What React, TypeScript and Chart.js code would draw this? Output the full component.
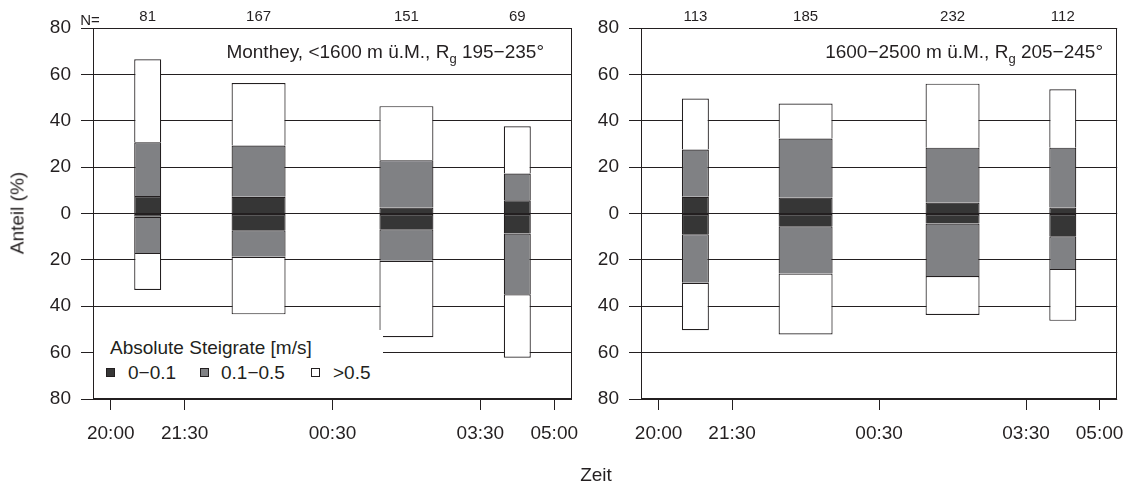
import React, { useEffect, useRef } from "react";
import { Chart, registerables } from "chart.js";

Chart.register(...registerables);

// ---------- data ----------
// x positions in hours after 20:00
const timeTicks = [0, 1.5, 4.5, 7.5, 9];
const timeLabels = ["20:00", "21:30", "00:30", "03:30", "05:00"];
const barCenters = [0.75, 3, 6, 8.25];
const barIsWide = [false, true, true, false];

const classLabels = ["0\u22120.1", "0.1\u22120.5", ">0.5"];

// Panel A: Monthey, <1600 m ü.M.
const nA = [81, 167, 151, 69];
const upSlowA = [7.5, 7.2, 2.6, 5.7];
const upMidA = [23.2, 22.1, 20.4, 11.5];
const upFastA = [35.8, 27.0, 23.3, 20.4];
const downSlowA = [1.4, 7.2, 6.8, 8.6];
const downMidA = [15.6, 11.5, 13.6, 26.2];
const downFastA = [16.0, 24.8, 33.0, 27.4];

// Panel B: 1600-2500 m ü.M.
const nB = [113, 185, 232, 112];
const upSlowB = [7.2, 6.9, 4.7, 2.6];
const upMidB = [20.4, 25.4, 23.7, 25.8];
const upFastB = [22.0, 15.1, 27.6, 25.2];
const downSlowB = [8.9, 5.5, 4.3, 9.8];
const downMidB = [21.0, 20.4, 22.7, 14.1];
const downFastB = [20.4, 26.3, 16.8, 22.4];

// ---------- styles ----------
const INK = "#231f20";
const classColors = ["#363636", "#808184", "#ffffff"];
const FONT = "'Liberation Sans', Arial, Helvetica, sans-serif";

const framePlugin = {
  id: "frame",
  afterDatasetsDraw(chart: any) {
    const { ctx, chartArea: a } = chart;
    ctx.save();
    ctx.strokeStyle = INK;
    ctx.lineWidth = 1;
    const l = Math.round(a.left) + 0.5;
    const t = Math.round(a.top) + 0.5;
    const r = Math.round(a.right) - 0.5;
    const b = Math.round(a.bottom) - 0.5;
    ctx.strokeRect(l, t, r - l, b - t);
    ctx.restore();
  },
};

function buildDatasets(up: number[][], down: number[][]) {
  const ds: any[] = [];
  [false, true].forEach((wide) => {
    const idx = barCenters.map((_, i) => i).filter((i) => barIsWide[i] === wide);
    const common = {
      borderColor: INK,
      borderSkipped: false,
      barThickness: wide ? 54 : 27,
      stack: "s",
      inflateAmount: 0,
    };
    for (let c = 0; c < 3; c++) {
      ds.push({
        ...common,
        label: classLabels[c],
        data: idx.map((i) => ({ x: barCenters[i], y: up[c][i] })),
        backgroundColor: classColors[c],
        borderWidth: { top: 1.2, left: 1.2, right: 1.2, bottom: 0 },
      });
    }
    for (let c = 0; c < 3; c++) {
      ds.push({
        ...common,
        label: classLabels[c],
        data: idx.map((i) => ({ x: barCenters[i], y: -down[c][i] })),
        backgroundColor: classColors[c],
        borderWidth: { top: 1.2, left: 1.2, right: 1.2, bottom: c === 2 ? 1.2 : 0 },
      });
    }
  });
  return ds;
}

function makeChart(
  canvas: HTMLCanvasElement,
  up: number[][],
  down: number[][],
  counts: number[],
  yAxisWidth: number,
  padRight: number
) {
  const xmin = -0.36;
  const xmax = 9.36;
  return new Chart(canvas, {
    type: "bar",
    data: { datasets: buildDatasets(up, down) },
    plugins: [framePlugin],
    options: {
      responsive: false,
      animation: false,
      devicePixelRatio: 1,
      layout: { padding: { left: 0, right: padRight, top: 0, bottom: 0 } },
      plugins: { legend: { display: false }, tooltip: { enabled: false } },
      scales: {
        x: {
          type: "linear",
          position: "bottom",
          min: xmin,
          max: xmax,
          offset: false,
          afterFit: (s: any) => {
            s.height = 85;
          },
          afterBuildTicks: (s: any) => {
            s.ticks = timeTicks.map((v) => ({ value: v }));
          },
          grid: {
            offset: false,
            drawOnChartArea: false,
            drawTicks: true,
            tickLength: 11,
            color: INK,
          },
          border: { display: false },
          ticks: {
            autoSkip: false,
            maxRotation: 0,
            padding: 12,
            color: INK,
            font: { family: FONT, size: 19 },
            callback: (_v: any, i: number) => timeLabels[i],
          },
        },
        x2: {
          type: "linear",
          position: "top",
          min: xmin,
          max: xmax,
          offset: false,
          afterFit: (s: any) => {
            s.height = 28;
          },
          afterBuildTicks: (s: any) => {
            s.ticks = barCenters.map((v) => ({ value: v }));
          },
          grid: { display: false, drawTicks: false },
          border: { display: false },
          ticks: {
            autoSkip: false,
            maxRotation: 0,
            padding: 2,
            color: INK,
            font: { family: FONT, size: 15 },
            callback: (_v: any, i: number) => String(counts[i]),
          },
        },
        y: {
          type: "linear",
          stacked: true,
          min: -80,
          max: 80,
          afterFit: (s: any) => {
            s.width = yAxisWidth;
          },
          grid: {
            color: INK,
            lineWidth: 1,
            drawTicks: true,
            tickLength: 12,
          },
          border: { display: false },
          ticks: {
            stepSize: 20,
            padding: 10,
            color: INK,
            font: { family: FONT, size: 19 },
            callback: (v: any) => String(Math.abs(Number(v))),
          },
        },
      },
    } as any,
  });
}

const textBase: React.CSSProperties = {
  position: "absolute",
  fontFamily: FONT,
  color: INK,
  whiteSpace: "nowrap",
  lineHeight: 1,
};

function Marker({ color }: { color: string }) {
  return (
    <span
      style={{
        display: "inline-block",
        width: 7,
        height: 7,
        background: color,
        border: `1px solid ${INK}`,
      }}
    />
  );
}

export default function App() {
  const leftRef = useRef<HTMLCanvasElement>(null);
  const rightRef = useRef<HTMLCanvasElement>(null);

  useEffect(() => {
    const a = makeChart(
      leftRef.current!,
      [upSlowA, upMidA, upFastA],
      [downSlowA, downMidA, downFastA],
      nA,
      93,
      28
    );
    const b = makeChart(
      rightRef.current!,
      [upSlowB, upMidB, upFastB],
      [downSlowB, downMidB, downFastB],
      nB,
      61,
      16
    );
    return () => {
      a.destroy();
      b.destroy();
    };
  }, []);

  return (
    <div
      style={{
        position: "fixed",
        left: 0,
        top: 0,
        width: 1136,
        height: 484,
        background: "#fff",
        overflow: "hidden",
      }}
    >
      <canvas
        ref={leftRef}
        width={600}
        height={484}
        style={{ position: "absolute", left: 0, top: 0, width: 600, height: 484 }}
      />
      <canvas
        ref={rightRef}
        width={556}
        height={484}
        style={{ position: "absolute", left: 580, top: 0, width: 556, height: 484 }}
      />

      {/* N= label */}
      <div style={{ ...textBase, fontSize: 15, left: 90, top: 19, transform: "translate(-50%, -50%)" }}>N=</div>

      {/* panel titles */}
      <div style={{ ...textBase, fontSize: 19, right: 1136 - 544, top: 53, transform: "translateY(-50%)" }}>
        Monthey, &lt;1600 m ü.M., R<sub style={{ fontSize: 13, verticalAlign: -5 }}>g</sub> 195−235°
      </div>
      <div style={{ ...textBase, fontSize: 19, right: 1136 - 1103, top: 53, transform: "translateY(-50%)" }}>
        1600−2500 m ü.M., R<sub style={{ fontSize: 13, verticalAlign: -5 }}>g</sub> 205−245°
      </div>

      {/* legend */}
      <div
        style={{
          position: "absolute",
          left: 94,
          top: 330,
          width: 289,
          height: 68,
          background: "#fff",
        }}
      />
      <div style={{ ...textBase, fontSize: 19, left: 110, top: 347, transform: "translateY(-50%)" }}>
        Absolute Steigrate [m/s]
      </div>
      {[0, 1, 2].map((c) => {
        const mx = [110, 204, 315][c];
        const tx = [128, 221, 333][c];
        return (
          <React.Fragment key={c}>
            <div style={{ position: "absolute", left: mx - 4, top: 372 - 4, lineHeight: 0 }}>
              <Marker color={classColors[c]} />
            </div>
            <div style={{ ...textBase, fontSize: 19, left: tx, top: 372, transform: "translateY(-50%)" }}>
              {classLabels[c]}
            </div>
          </React.Fragment>
        );
      })}

      {/* axis titles */}
      <div
        style={{
          ...textBase,
          fontSize: 19,
          left: 17,
          top: 213,
          transform: "translate(-50%, -50%) rotate(-90deg)",
        }}
      >
        Anteil (%)
      </div>
      <div style={{ ...textBase, fontSize: 19, left: 596, top: 474, transform: "translate(-50%, -50%)" }}>Zeit</div>
    </div>
  );
}
